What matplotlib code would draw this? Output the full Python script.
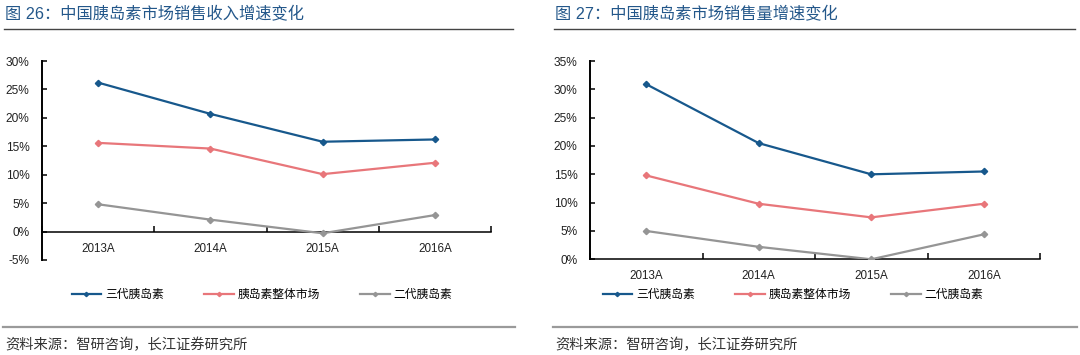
import matplotlib
matplotlib.use("Agg")
import matplotlib.pyplot as plt
from matplotlib.lines import Line2D
from matplotlib.ticker import FuncFormatter, FixedLocator

plt.rcParams['font.family'] = ['Liberation Sans', 'Noto Sans CJK SC', 'DejaVu Sans']

years = ["2013A", "2014A", "2015A", "2016A"]
series_names = ["三代胰岛素", "胰岛素整体市场", "二代胰岛素"]

# Chart 26: sales revenue growth (%)
rev_gen3 = [26.2, 20.7, 15.8, 16.2]
rev_total = [15.6, 14.6, 10.1, 12.1]
rev_gen2 = [4.8, 2.1, -0.3, 2.9]

# Chart 27: sales volume growth (%)
vol_gen3 = [30.9, 20.5, 15.0, 15.5]
vol_total = [14.8, 9.8, 7.4, 9.8]
vol_gen2 = [5.0, 2.2, 0.0, 4.4]

title_left = "图 26：中国胰岛素市场销售收入增速变化"
title_right = "图 27：中国胰岛素市场销售量增速变化"
source_text = "资料来源：智研咨询，长江证券研究所"

colors = ["#17588c", "#e8767a", "#959595"]
W, H = 1080, 355
fig = plt.figure(figsize=(W / 100, H / 100), dpi=100)


def fx(px):
    return px / W


def fy(py):
    return 1 - py / H


def make_axes(left, right, top, bottom, ymin, ymax, data, legend_x):
    ax = fig.add_axes([fx(left), fy(bottom), fx(right - left), (bottom - top) / H])
    x = list(range(len(years)))
    for vals, c, name in zip(data, colors, series_names):
        ax.plot(x, vals, color=c, lw=1.6, marker='D', ms=3.2, label=name,
                solid_joinstyle='round', zorder=3)
    ax.set_xlim(-0.5, len(years) - 0.5)
    ax.set_ylim(ymin, ymax)
    ax.set_yticks(range(ymin, ymax + 1, 5))
    ax.yaxis.set_major_formatter(FuncFormatter(lambda v, p: f"{int(v)}%"))
    ax.set_xticks(x)
    ax.set_xticklabels(years)
    ax.xaxis.set_minor_locator(FixedLocator([i - 0.5 for i in range(len(years) + 1)]))
    ax.tick_params(axis='x', which='major', length=0, pad=8, labelsize=8.4, colors='#222222')
    ax.tick_params(axis='x', which='minor', direction='in', length=4, width=1.1, color='black')
    ax.tick_params(axis='y', which='major', direction='in', length=3.5, width=1.1, pad=9,
                   labelsize=8.6, colors='#222222')
    ax.tick_params(axis='y', colors='black', labelcolor='#222222')
    for s in ['top', 'right']:
        ax.spines[s].set_visible(False)
    ax.spines['bottom'].set_position(('data', 0))
    ax.spines['bottom'].set_linewidth(1.1)
    ax.spines['left'].set_linewidth(1.4)
    ax.patch.set_alpha(0)
    handles = [Line2D([], [], color=c, lw=1.6, marker='D', ms=2.2) for c in colors]
    fig.legend(handles, series_names, loc='center', bbox_to_anchor=(fx(legend_x), fy(295)),
               ncol=3, frameon=False, handlelength=2.5, handletextpad=0.35,
               columnspacing=3.4, prop={'size': 8.5})
    return ax


make_axes(42, 491, 61, 260, -5, 30, [rev_gen3, rev_total, rev_gen2], 262)
make_axes(590, 1040, 61, 259.3, 0, 35, [vol_gen3, vol_total, vol_gen2], 793)

# titles and rules
for x0, x1, t in [(5, 513, title_left), (555, 1075, title_right)]:
    fig.text(fx(x0), fy(14), t, fontsize=11.7, color='#23578a', va='center', ha='left')
    fig.add_artist(Line2D([fx(x0 - 1), fx(x1)], [fy(29), fy(29)], color='#444444', lw=1.0))
    fig.add_artist(Line2D([fx(x0 - 2), fx(x1 + 2)], [fy(327), fy(327)], color='#9a9a9a', lw=1.6))
    fig.text(fx(x0), fy(345), source_text, fontsize=10.3, color='#333333', va='center', ha='left')

fig.savefig("out.png", dpi=100)
